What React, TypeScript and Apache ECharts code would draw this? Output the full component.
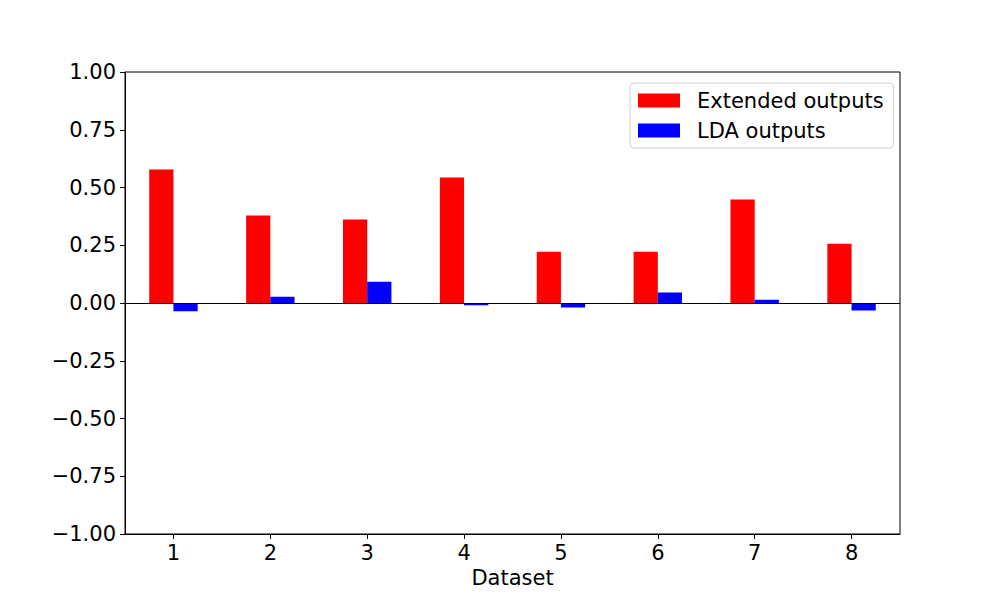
import React, { useEffect, useRef } from "react";
import * as echarts from "echarts";

const categories = ["1", "2", "3", "4", "5", "6", "7", "8"];
const extendedOutputs = [0.578, 0.379, 0.361, 0.543, 0.222, 0.222, 0.448, 0.257];
const ldaOutputs = [-0.036, 0.027, 0.092, -0.01, -0.019, 0.045, 0.014, -0.032];
const seriesNames = ["Extended outputs", "LDA outputs"];

const FONT = "DejaVu Sans";
const FS = 21;

export default function App() {
  const ref = useRef<HTMLDivElement>(null);
  useEffect(() => {
    document.body.style.margin = "0";
    const chart = echarts.init(ref.current!, null, { renderer: "svg" });
    chart.setOption({
      animation: false,
      backgroundColor: "#fff",
      textStyle: { fontFamily: FONT },
      grid: {
        left: 125,
        right: 100,
        top: 72,
        bottom: 66,
        show: true,
        borderColor: "#000",
        borderWidth: 1,
        backgroundColor: "transparent",
      },
      legend: {
        orient: "vertical",
        left: 630,
        top: 83,
        itemWidth: 42,
        itemHeight: 14,
        itemGap: 9,
        padding: [7, 10, 7, 8],
        borderColor: "#d0d0d0",
        borderWidth: 1,
        borderRadius: 4,
        backgroundColor: "rgba(255,255,255,0.8)",
        textStyle: {
          fontFamily: FONT,
          fontSize: FS,
          color: "#000",
          padding: [0, 0, 0, 12],
        },
        data: seriesNames.map((n) => ({ name: n, icon: "rect" })),
      },
      xAxis: {
        type: "category",
        data: categories,
        name: "Dataset",
        nameLocation: "middle",
        nameGap: 33,
        nameTextStyle: { fontFamily: FONT, fontSize: FS, color: "#000" },
        axisLine: { show: true, onZero: false, lineStyle: { color: "#000", width: 1 } },
        axisTick: { show: true, alignWithLabel: true, length: 5, lineStyle: { color: "#000" } },
        axisLabel: { fontFamily: FONT, fontSize: FS, color: "#000", margin: 8 },
        splitLine: { show: false },
      },
      yAxis: {
        type: "value",
        min: -1,
        max: 1,
        interval: 0.25,
        axisLine: { show: true, onZero: false, lineStyle: { color: "#000", width: 1 } },
        axisTick: { show: true, length: 5, lineStyle: { color: "#000" } },
        axisLabel: {
          fontFamily: FONT,
          fontSize: FS,
          color: "#000",
          margin: 9,
          formatter: (v: number) => v.toFixed(2).replace("-", "\u2212"),
        },
        splitLine: { show: false },
      },
      series: [
        {
          name: seriesNames[0],
          type: "bar",
          data: extendedOutputs,
          barWidth: "25%",
          barGap: "0%",
          itemStyle: { color: "#ff0000" },
        },
        {
          name: seriesNames[1],
          type: "bar",
          data: ldaOutputs,
          barWidth: "25%",
          barGap: "0%",
          itemStyle: { color: "#0000ff" },
          markLine: {
            silent: true,
            symbol: ["none", "none"],
            label: { show: false },
            lineStyle: { color: "#000", width: 1.2, type: "solid" },
            data: [{ yAxis: 0 }],
          },
        },
      ],
    });
    return () => chart.dispose();
  }, []);
  return (
    <div
      ref={ref}
      style={{ position: "absolute", left: 0, top: 0, width: 1000, height: 600 }}
    />
  );
}
